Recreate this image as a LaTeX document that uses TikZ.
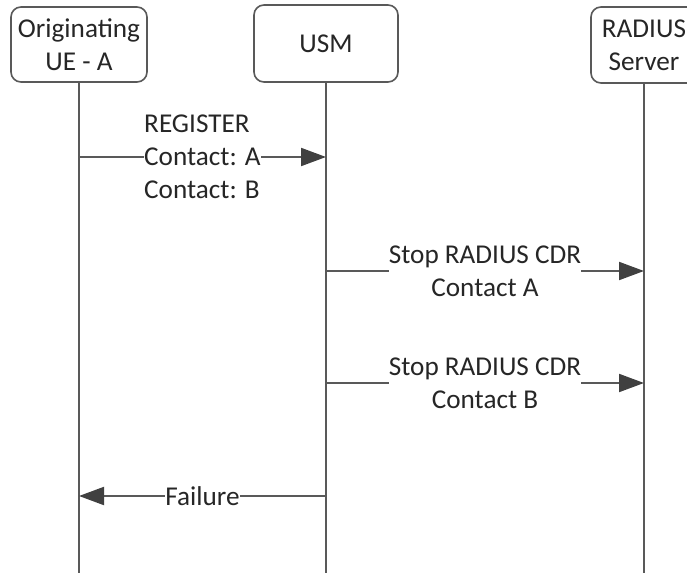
\documentclass[tikz,border=0pt]{standalone}
\usepackage{fontspec}
\setmainfont{Carlito}
\usetikzlibrary{arrows.meta}
\definecolor{linegray}{RGB}{89,89,89}
\definecolor{headgray}{RGB}{64,64,64}
\tikzset{
  entity/.style={draw=linegray, line width=0.8pt, rounded corners=5pt, fill=white,
    align=center, inner sep=0pt, text=black!85},
  lifeline/.style={draw=linegray, line width=1pt},
  msg/.style={lifeline, -{Triangle[length=12.5pt,width=9pt,fill=headgray,color=headgray]}},
  msglabel/.style={fill=white, inner sep=0pt, text=black!85},
}
\begin{document}
\begin{tikzpicture}[x=0.5pt,y=-0.5pt,font=\fontsize{13.6}{16.5}\selectfont]
  \useasboundingbox (0,0) rectangle (687,573);
  % entities
  \node[entity, minimum width=68pt, minimum height=37.5pt] (ue) at (79,44.5) {Originating\\UE - A};
  \node[entity, minimum width=72pt, minimum height=38.5pt] (usm) at (326,43.5) {USM};
  \node[entity, minimum width=53pt, minimum height=38pt] (radius) at (644,45) {RADIUS\\Server};
  % lifelines
  \coordinate (ue end) at (ue.south |- 0,573);
  \coordinate (usm end) at (usm.south |- 0,573);
  \coordinate (radius end) at (radius.south |- 0,573);
  \draw[lifeline] (ue.south) -- (ue end);
  \draw[lifeline] (usm.south) -- (usm end);
  \draw[lifeline] (radius.south) -- (radius end);
  % messages
  \coordinate (reg a) at (ue |- 0,157);
  \coordinate (reg b) at (usm |- 0,157);
  \draw[msg] (reg a) -- node[msglabel, align=left] {REGISTER\\Contact: A\\Contact: B} (reg b);
  \coordinate (cdr1 a) at (usm |- 0,271);
  \coordinate (cdr1 b) at (radius |- 0,271);
  \draw[msg] (cdr1 a) -- node[msglabel, align=center] {Stop RADIUS CDR\\Contact A} (cdr1 b);
  \coordinate (cdr2 a) at (usm |- 0,383);
  \coordinate (cdr2 b) at (radius |- 0,383);
  \draw[msg] (cdr2 a) -- node[msglabel, align=center] {Stop RADIUS CDR\\Contact B} (cdr2 b);
  \coordinate (fail a) at (usm |- 0,496);
  \coordinate (fail b) at (ue |- 0,496);
  \draw[msg] (fail a) -- node[msglabel] {Failure} (fail b);
\end{tikzpicture}
\end{document}
